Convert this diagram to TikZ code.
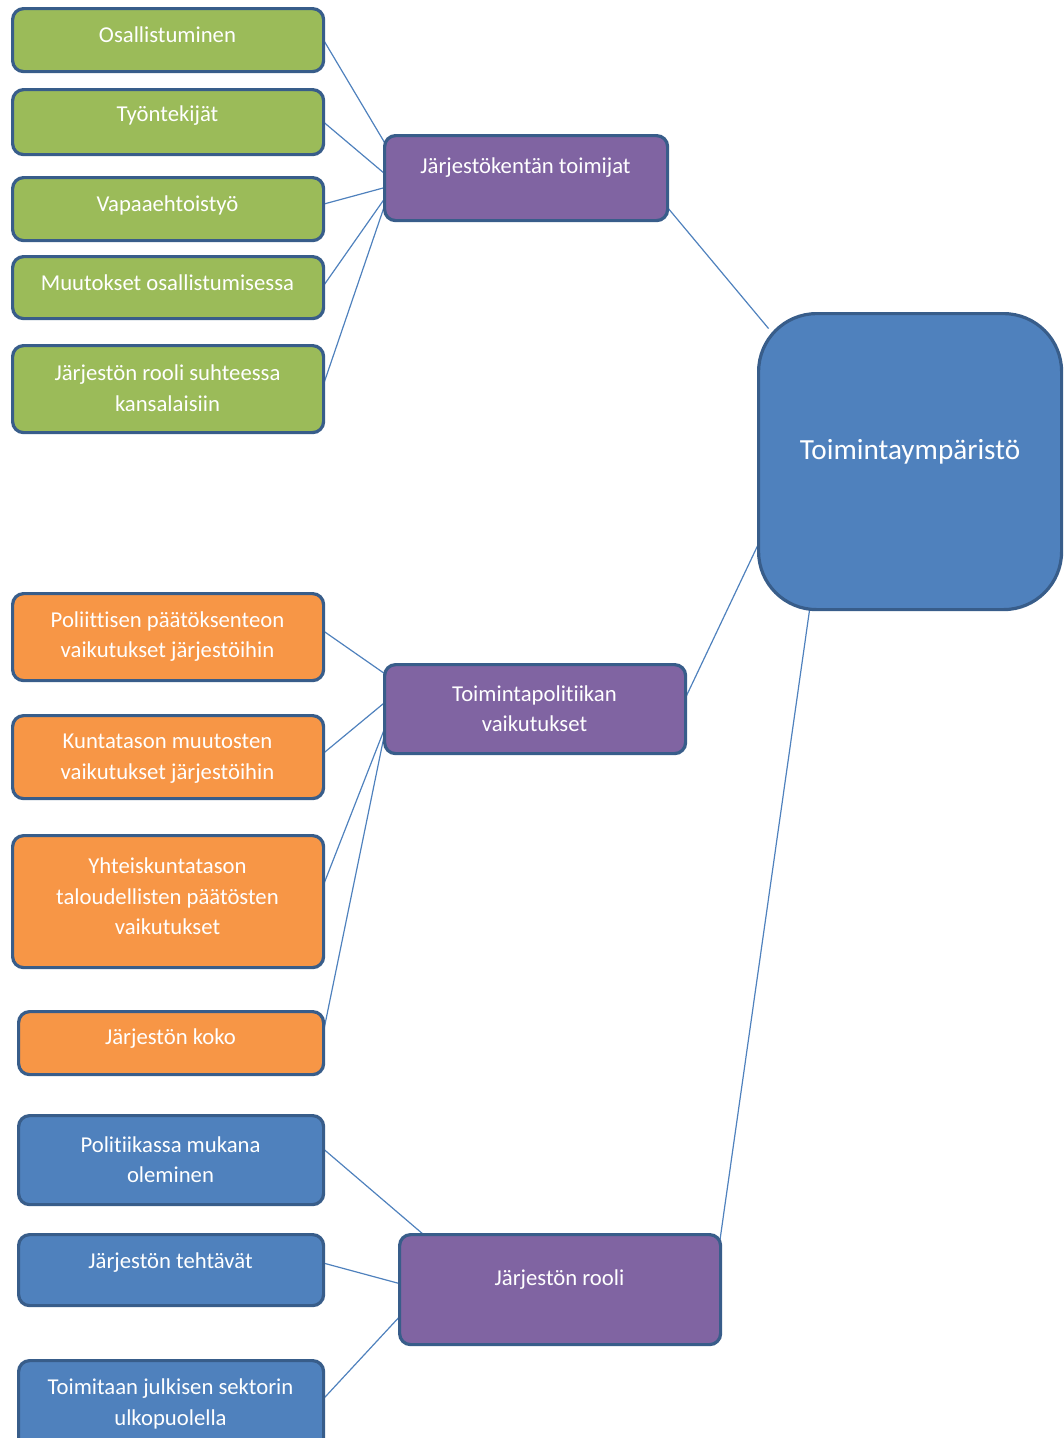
\documentclass[tikz,border=0pt]{standalone}
\usepackage{fontspec}
\setmainfont{Carlito}[Ligatures=NoCommon]
\usetikzlibrary{calc,backgrounds}
\definecolor{bgreen}{HTML}{9BBB59}
\definecolor{borange}{HTML}{F79646}
\definecolor{bblue}{HTML}{4F81BD}
\definecolor{bpurple}{HTML}{8064A2}
\definecolor{bborder}{HTML}{385D8A}
\definecolor{lnk}{HTML}{4F81BD}
\begin{document}
\begin{tikzpicture}[x=1pt,y=-1pt,
  box/.style={draw=bborder, line width=3.2pt, rounded corners=11pt, anchor=north west, inner sep=0pt, outer sep=0pt},
  txt/.style={text=white, font=\fontsize{22.7}{30.5}\selectfont, align=center, inner sep=0pt},
  link/.style={draw=lnk, line width=1.2pt}]
\clip (0,0) rectangle (1064,1438);
% green boxes
\node[box, fill=bgreen, minimum width=311pt, minimum height=63pt] (g1) at (12.6,8.6) {};
\node[box, fill=bgreen, minimum width=311pt, minimum height=65pt] (g2) at (12.6,89.6) {};
\node[box, fill=bgreen, minimum width=311pt, minimum height=63pt] (g3) at (12.6,177.6) {};
\node[box, fill=bgreen, minimum width=311pt, minimum height=62pt] (g4) at (12.6,256.6) {};
\node[box, fill=bgreen, minimum width=311pt, minimum height=87pt] (g5) at (12.6,345.6) {};
% purple
\node[box, fill=bpurple, minimum width=283pt, minimum height=85pt] (p1) at (384.6,135.6) {};
\node[box, fill=bpurple, minimum width=301pt, minimum height=89pt] (p2) at (384.6,664.6) {};
\node[box, fill=bpurple, minimum width=321pt, minimum height=110pt] (p3) at (399.6,1234.6) {};
% main
\node[box, fill=bblue, rounded corners=58pt, minimum width=303pt, minimum height=296pt] (T) at (758.6,313.6) {};
% orange
\node[box, fill=borange, minimum width=311pt, minimum height=87pt] (o1) at (12.6,593.6) {};
\node[box, fill=borange, minimum width=311pt, minimum height=83pt] (o2) at (12.6,715.6) {};
\node[box, fill=borange, minimum width=311pt, minimum height=132pt] (o3) at (12.6,835.6) {};
\node[box, fill=borange, minimum width=305pt, minimum height=63pt] (o4) at (18.6,1011.6) {};
% blue
\node[box, fill=bblue, minimum width=305pt, minimum height=89pt] (b1) at (18.6,1115.6) {};
\node[box, fill=bblue, minimum width=305pt, minimum height=71pt] (b2) at (18.6,1234.6) {};
\node[box, fill=bblue, minimum width=305pt, minimum height=92pt] (b3) at (18.6,1360.6) {};

% texts
\node[txt] (g1t) at (167.5,35) {Osallistuminen};
\node[txt] (g2t) at (167.5,116) {Työntekijät};
\node[txt] (g3t) at (167.5,205) {Vapaaehtoistyö};
\node[txt] (g4t) at (167.5,283) {Muutokset osallistumisessa};
\node[txt] (g5t) at (167.5,388) {Järjestön rooli suhteessa\\kansalaisiin};
\node[txt] (p1t) at (525.5,168) {Järjestökentän toimijat};
\node[txt] (p2t) at (534.5,708.5) {Toimintapolitiikan\\vaikutukset};
\node[txt] (p3t) at (559.5,1280) {Järjestön rooli};
\node[txt, font=\fontsize{29.2}{34}\selectfont] (Tt) at (910,452) {Toimintaympäristö};
\node[txt] (o1t) at (167.5,636.5) {Poliittisen päätöksenteon\\vaikutukset järjestöihin};
\node[txt] (o2t) at (167.5,758.5) {Kuntatason muutosten\\vaikutukset järjestöihin};
\node[txt] (o3t) at (167.5,896.5) {Yhteiskuntatason\\taloudellisten päätösten\\vaikutukset};
\node[txt] (o4t) at (170.5,1039) {Järjestön koko};
\node[txt] (b1t) at (170.5,1159.5) {Politiikassa mukana\\oleminen};
\node[txt] (b2t) at (170.5,1263) {Järjestön tehtävät};
\node[txt] (b3t) at (170.5,1404) {Toimitaan julkisen sektorin\\ulkopuolella};

% connectors
\begin{scope}[on background layer]
\draw[link] (g1.east) -- ($(p1.north west)+(0,7)$);
\draw[link] (g2.east) -- ($(p1.north west)+(0,38)$);
\draw[link] ($(g3.east)+(0,-5)$) -- ($(p1.north west)+(0,52)$);
\draw[link] ($(g4.east)+(0,-2)$) -- ($(p1.north west)+(0,63)$);
\draw[link] ($(g5.east)+(0,-5)$) -- ($(p1.north west)+(0,70)$);
\draw[link] ($(p1.south east)+(0,-13)$) -- ($(T.north west)+(10,15)$);
\draw[link] ($(o1.east)+(0,-6)$) -- ($(p2.north west)+(0,9)$);
\draw[link] ($(o2.east)+(0,-4)$) -- ($(p2.north west)+(0,38)$);
\draw[link] ($(o3.east)+(0,-17)$) -- ($(p2.north west)+(0,64)$);
\draw[link] ($(o4.east)+(0,-12)$) -- ($(p2.north west)+(0,69)$);
\draw[link] ($(p2.north east)+(0,33)$) -- ($(T.north west)+(0,230)$);
\draw[link] ($(p3.north east)+(-1,8)$) -- ($(T.south west)+(51,0)$);
\draw[link] ($(b1.east)+(0,-11)$) -- ($(p3.north west)+(24,0)$);
\draw[link] ($(b2.east)+(0,-7)$) -- ($(p3.north west)+(0,49)$);
\draw[link] ($(b3.east)+(0,-8)$) -- ($(p3.north west)+(0,82)$);
\end{scope}
\end{tikzpicture}
\end{document}
